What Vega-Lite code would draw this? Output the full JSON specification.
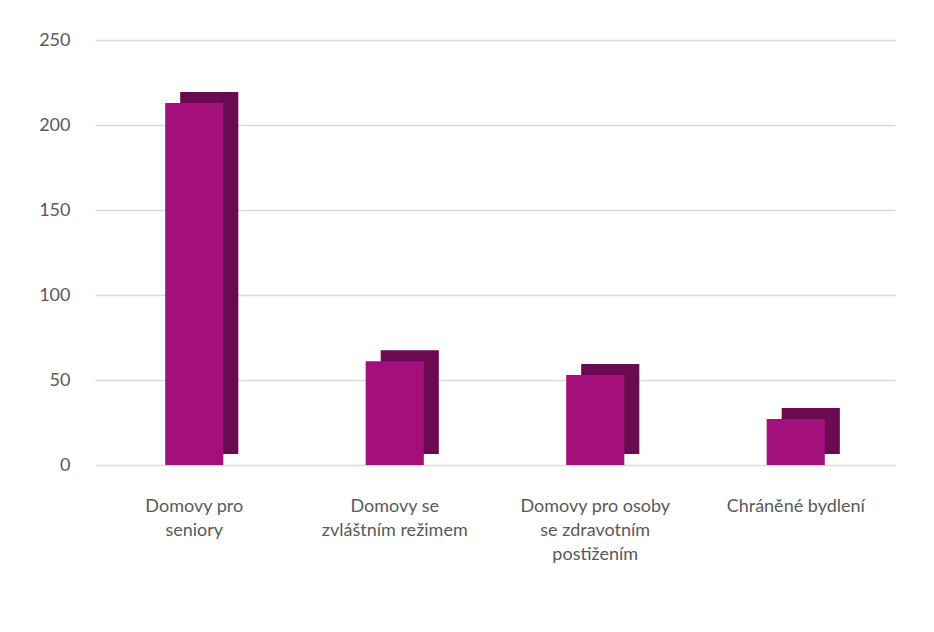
{
  "$schema": "https://vega.github.io/schema/vega-lite/v6.json",
  "width": 800,
  "height": 425,
  "autosize": "none",
  "padding": {"left": 95, "top": 40, "right": 39, "bottom": 167},
  "background": "white",
  "config": {
    "view": {"stroke": null},
    "font": "Lato"
  },
  "data": {
    "values": [
      {"kategorie": "Domovy pro seniory", "pocet": 213},
      {"kategorie": "Domovy se zvláštním režimem", "pocet": 61},
      {"kategorie": "Domovy pro osoby se zdravotním postižením", "pocet": 53},
      {"kategorie": "Chráněné bydlení", "pocet": 27}
    ]
  },
  "encoding": {
    "x": {
      "field": "kategorie",
      "type": "nominal",
      "sort": null,
      "scale": {"paddingInner": 0.71, "paddingOuter": 0.35},
      "axis": {
        "title": null,
        "domain": false,
        "ticks": false,
        "labelAngle": 0,
        "labelFontSize": 18,
        "labelColor": "#595959",
        "labelPadding": 32,
        "labelLineHeight": 24,
        "labelLimit": 300,
        "labelExpr": "datum.value == 'Domovy pro seniory' ? ['Domovy pro', 'seniory'] : datum.value == 'Domovy se zvláštním režimem' ? ['Domovy se', 'zvláštním režimem'] : datum.value == 'Domovy pro osoby se zdravotním postižením' ? ['Domovy pro osoby', 'se zdravotním', 'postižením'] : datum.value"
      }
    },
    "y": {
      "field": "pocet",
      "type": "quantitative",
      "scale": {"domain": [0, 250]},
      "axis": {
        "title": null,
        "domain": false,
        "ticks": false,
        "values": [0, 50, 100, 150, 200, 250],
        "labelFontSize": 18,
        "labelColor": "#595959",
        "labelPadding": 25,
        "gridColor": "#D9D9D9",
        "gridWidth": 1.5
      }
    }
  },
  "layer": [
    {
      "mark": {"type": "bar", "color": "#6A0A50", "xOffset": 15, "yOffset": -11}
    },
    {
      "mark": {"type": "bar", "color": "#A30F7D"}
    }
  ]
}
